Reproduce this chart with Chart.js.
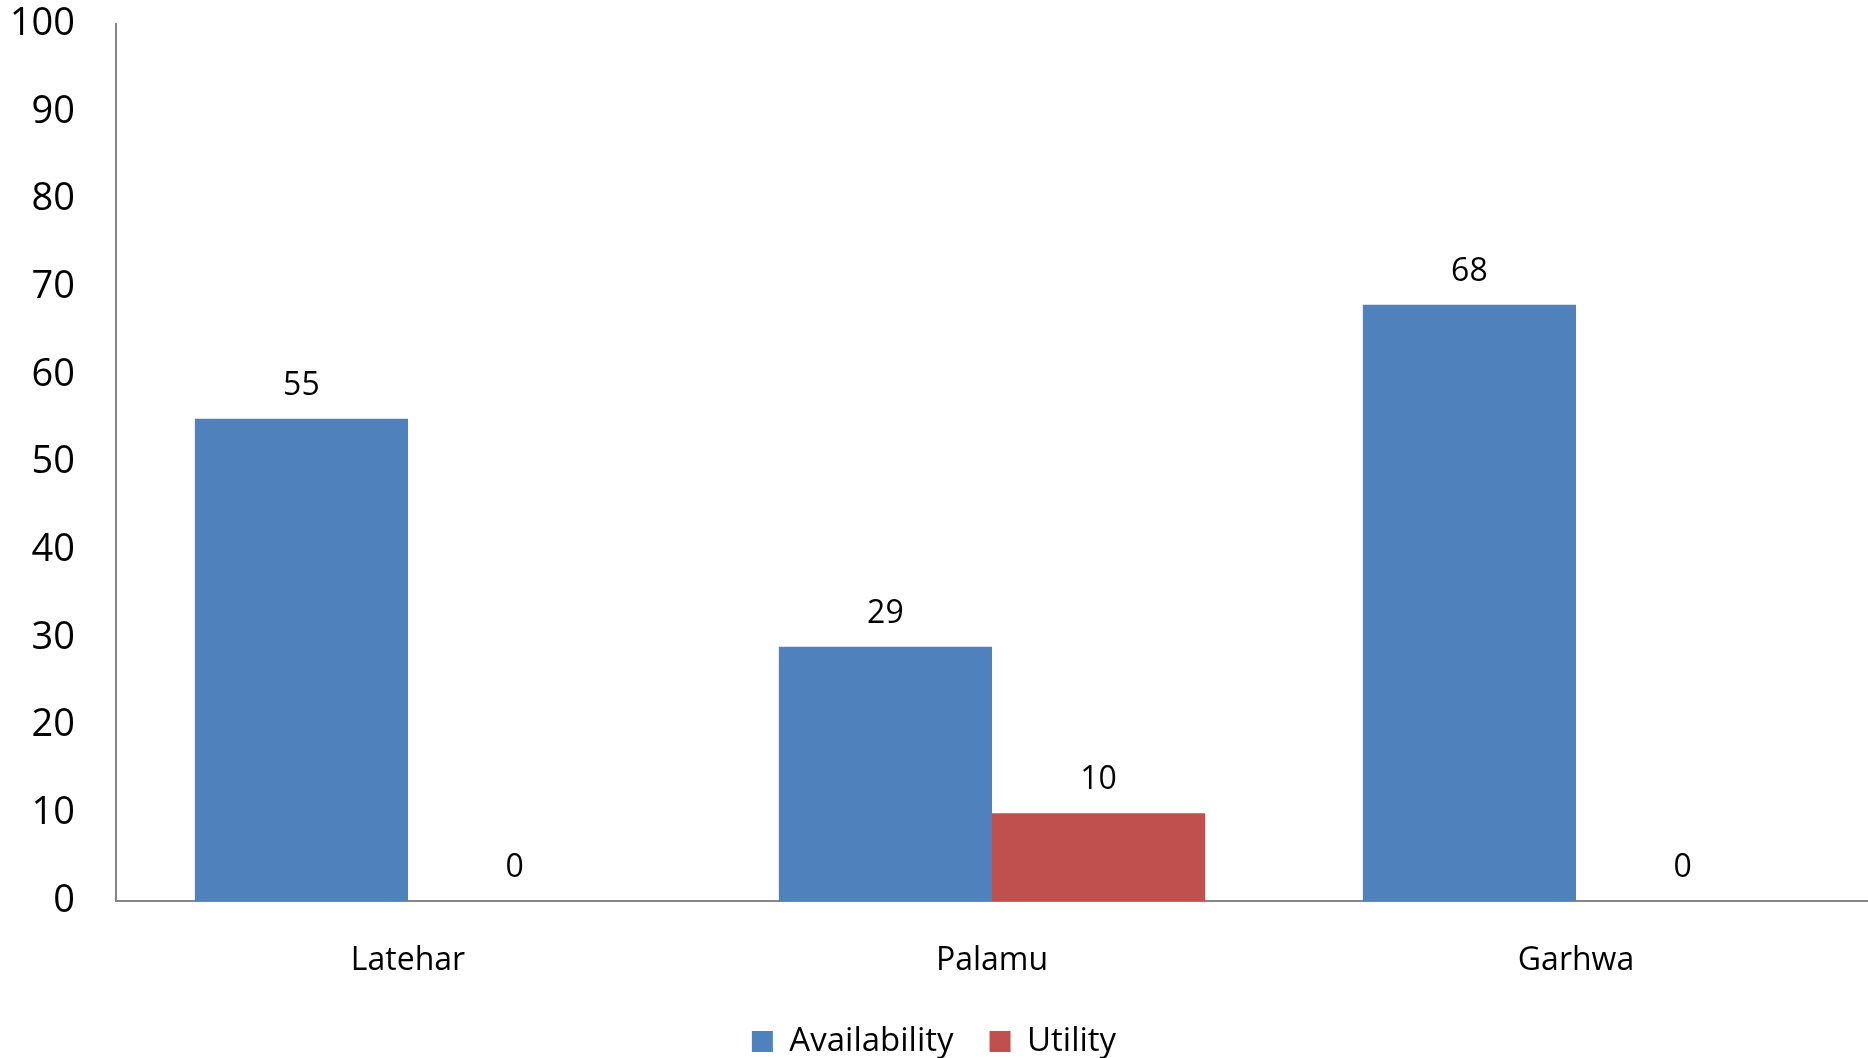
<!DOCTYPE html>
<html>
<head>
<meta charset="utf-8">
<script src="https://cdn.jsdelivr.net/npm/chart.js@4/dist/chart.umd.min.js"></script>
<style>
  html, body { margin: 0; padding: 0; background: #fff; }
  #wrap { width: 1868px; height: 1058px; }
</style>
</head>
<body>
<div id="wrap"><canvas id="chart"></canvas></div>
<script>
// districts and percentages
const districts = ['Latehar', 'Palamu', 'Garhwa'];
const availability = [55, 29, 68];
const utility = [0, 10, 0];
const yTicks = [0, 10, 20, 30, 40, 50, 60, 70, 80, 90, 100];

const fontFamily = "'Open Sans', 'Liberation Sans', sans-serif";

// draws the number above each bar
const barValues = {
    id: 'barValues',
    afterDatasetsDraw(chart) {
        const ctx = chart.ctx;
        ctx.save();
        ctx.font = '32px ' + fontFamily;
        ctx.fillStyle = '#000';
        ctx.textAlign = 'center';
        ctx.textBaseline = 'middle';
        chart.data.datasets.forEach((ds, i) => {
            chart.getDatasetMeta(i).data.forEach((bar, j) => {
                ctx.fillText(ds.data[j], bar.x, bar.y - 33);
            });
        });
        ctx.restore();
    }
};

let data = {
    labels: districts,
    datasets: [{
        label: 'Availability',
        data: availability,
        backgroundColor: '#4F81BD',
    }, {
        label: 'Utility',
        data: utility,
        backgroundColor: '#C0504D',
    }],
};

let config = {
    type: 'bar',
    data: data,
    plugins: [barValues],
    options: {
        responsive: true,
        maintainAspectRatio: false,
        animation: false,
        layout: { padding: { top: 4, right: 0, left: 0, bottom: -10 } },
        datasets: {
            bar: { barPercentage: 1, categoryPercentage: 0.73 }
        },
        scales: {
            x: {
                grid: { display: false, drawTicks: false },
                border: { color: '#868686', width: 2 },
                ticks: { color: '#000', padding: 41, font: { family: fontFamily, size: 32 } },
                afterFit(axis) { axis.height = 88; }
            },
            y: {
                min: 0,
                max: 100,
                afterBuildTicks(axis) { axis.ticks = yTicks.map(v => ({ value: v })); },
                grid: { display: false, drawTicks: false },
                border: { color: '#868686', width: 2 },
                ticks: { color: '#000', padding: 41, font: { family: fontFamily, size: 38 } },
                afterFit(axis) {
                    axis.width = 116;
                    axis.paddingTop = 24;
                    axis.paddingBottom = 0;
                }
            }
        },
        plugins: {
            legend: {
                position: 'bottom',
                labels: {
                    color: '#000',
                    boxWidth: 21,
                    boxHeight: 21,
                    padding: 36,
                    font: { family: fontFamily, size: 33 }
                }
            },
            tooltip: { enabled: false }
        }
    }
};

new Chart(document.getElementById('chart'), config);
</script>
</body>
</html>
